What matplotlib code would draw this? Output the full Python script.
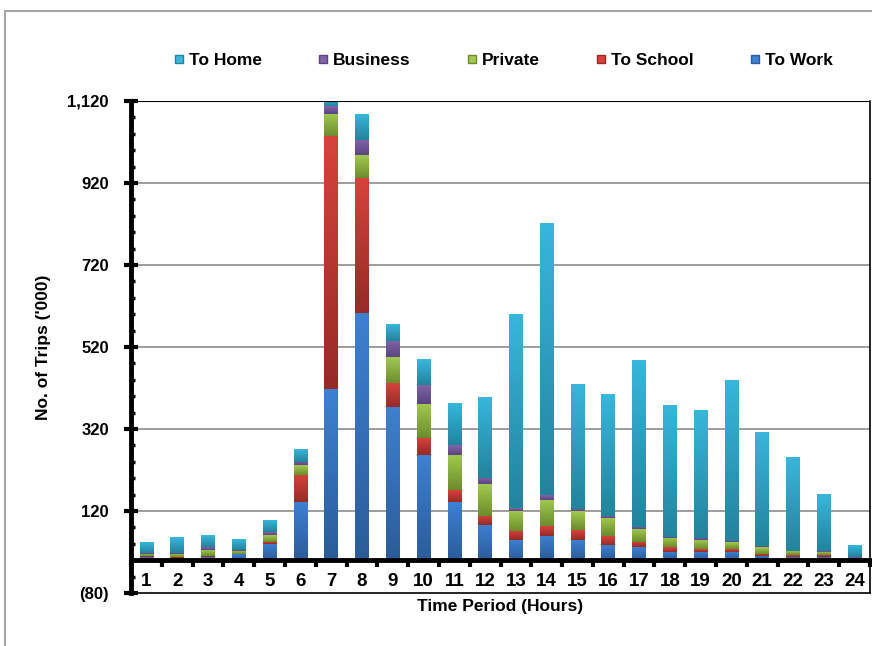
"""Stacked bars of trips by purpose per hour of day, Excel-style gradient fills."""
import matplotlib

matplotlib.use("Agg")
import matplotlib.pyplot as plt
import numpy as np
from matplotlib.colors import LinearSegmentedColormap
from matplotlib.lines import Line2D
from matplotlib.patches import Rectangle
from matplotlib.ticker import FixedLocator, FuncFormatter

plt.rcParams["font.family"] = ["Liberation Sans", "DejaVu Sans"]
plt.rcParams["font.weight"] = "bold"

hours = list(range(1, 25))
# trips ('000), stacked bottom to top
to_work = [8, 5, 8.5, 14, 40.5, 143, 418, 602, 374, 256, 141, 87,
           50, 60, 50, 38, 31, 21, 21, 21, 11, 9, 8, 1]
to_school = [2.5, 3, 2.5, 1, 5, 66, 616, 331, 58, 42, 29, 22,
             22, 24, 24, 20, 14, 10, 7, 7, 5, 2.5, 5, 0.5]
private = [5, 7.5, 15, 8.5, 17, 22, 54, 56, 63, 83, 86, 76,
           49, 64, 45, 44, 32, 22, 22, 17, 15.5, 10, 7.5, 5]
business = [2.5, 2.5, 5, 2.5, 6.5, 7.5, 19, 37, 40, 47, 24, 15,
            7, 12, 7, 7, 5, 2.5, 5, 2.5, 2.5, 1, 1, 1]
to_home = [25, 37, 29, 24.5, 28, 29.5, 17, 63, 40, 61, 101, 196,
           471, 662, 304, 297, 407, 321, 311, 392, 278, 228, 137, 29]

series = [("To Work", to_work), ("To School", to_school), ("Private", private),
          ("Business", business), ("To Home", to_home)]
# (bottom colour, top colour) of each segment's vertical gradient
grads = {
    "To Work": ("#2b5c99", "#3e80d2"),
    "To School": ("#962a27", "#d6433c"),
    "Private": ("#6c8c2c", "#a2ca50"),
    "Business": ("#5a4480", "#8165a9"),
    "To Home": ("#23839d", "#38b6dc"),
}
legend_order = ["To Home", "Business", "Private", "To School", "To Work"]

fig = plt.figure(figsize=(8.72, 6.46), dpi=100)
ax = fig.add_axes([131 / 872, 1 - 593 / 646, 739 / 872, 492 / 646])

x = np.array(hours, dtype=float)
bottom = np.zeros(len(hours))
ramp = np.linspace(0, 1, 128).reshape(-1, 1)
for name, vals in series:
    vals = np.array(vals, dtype=float)
    bars = ax.bar(x, vals, 0.44, bottom=bottom, color="none", linewidth=0, zorder=2)
    cmap = LinearSegmentedColormap.from_list(name, grads[name])
    for rect in bars:
        x0, y0 = rect.get_x(), rect.get_y()
        w, h = rect.get_width(), rect.get_height()
        if h <= 0:
            continue
        ax.imshow(ramp, cmap=cmap, origin="lower", aspect="auto", interpolation="bilinear",
                  extent=[x0, x0 + w, y0, y0 + h], zorder=2)
    bottom += vals

ax.set_xlim(0.5, 24.5)
ax.set_ylim(-80, 1120)

# gridlines and frame
for yv in [120, 320, 520, 720, 920]:
    ax.axhline(yv, color="#8c8c8c", linewidth=1.2, zorder=1)
ax.axhline(1120, color="black", linewidth=1.5, zorder=3)
ax.axhline(-80, color="black", linewidth=1.2, zorder=3, clip_on=False)
ax.spines["top"].set_visible(False)
ax.spines["right"].set_linewidth(1.2)
ax.spines["left"].set_linewidth(3.5)
ax.spines["bottom"].set_position(("data", 0))
ax.spines["bottom"].set_linewidth(3.5)
ax.spines["bottom"].set_zorder(4)

# category axis: ticks on boundaries, labels at centres
ax.xaxis.set_major_locator(FixedLocator(np.arange(0.5, 25.5, 1.0)))
ax.xaxis.set_minor_locator(FixedLocator(x))
ax.set_xticklabels([])
ax.set_xticklabels([str(h) for h in hours], minor=True)
ax.tick_params(axis="x", which="major", direction="out", length=5, width=3)
ax.tick_params(axis="x", which="minor", length=0, pad=9, labelsize=13.5)

# value axis
ax.set_yticks([-80, 120, 320, 520, 720, 920, 1120])
ax.yaxis.set_minor_locator(FixedLocator(np.arange(-80, 1121, 40)))
ax.yaxis.set_major_formatter(FuncFormatter(
    lambda v, _: f"({abs(v):,.0f})" if v < 0 else f"{v:,.0f}"))
ax.tick_params(axis="y", which="major", direction="inout", length=10, width=3,
               pad=11, labelsize=12)
ax.tick_params(axis="y", which="minor", direction="in", length=3, width=2.5)

ax.set_ylabel("No. of Trips ('000)", fontsize=12.5, fontweight="bold")
ax.yaxis.set_label_coords(-0.108, 0.5)
ax.set_xlabel("Time Period (Hours)", fontsize=12.5, fontweight="bold")
ax.xaxis.set_label_coords(0.5, -0.012)

handles = [Line2D([], [], marker="s", linestyle="none", markersize=6,
                  markerfacecolor=grads[n][1], markeredgecolor=grads[n][0]) for n in legend_order]
fig.legend(handles, legend_order, loc="center", bbox_to_anchor=(0.577, 1 - 60 / 646),
           ncol=5, frameon=False, handlelength=0.6, handletextpad=0.3, columnspacing=3.2,
           prop={"size": 12.5, "weight": "bold"})

# outer chart border (cropped on the right and bottom)
fig.patches.append(Rectangle((5 / 872, -0.1), 1.2, 1 - 11 / 646 + 0.1, transform=fig.transFigure,
                             fill=False, edgecolor="#a6a6a6", linewidth=1.5))

fig.savefig("out.png", dpi=100)
